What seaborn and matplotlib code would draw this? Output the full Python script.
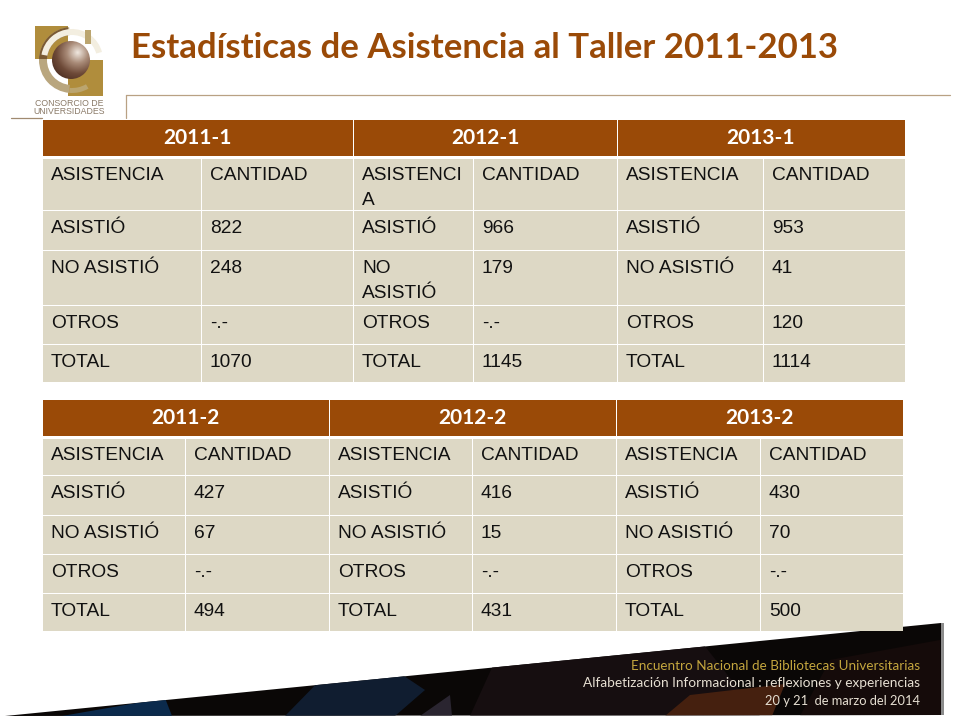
import numpy as np
import pandas as pd
import matplotlib
matplotlib.use("Agg")
import matplotlib.pyplot as plt
from matplotlib.colors import ListedColormap, LinearSegmentedColormap
from matplotlib.patches import Polygon, Circle, Rectangle, Wedge
import seaborn as sns

TITLE = "Estadísticas de Asistencia al Taller 2011-2013"
FOOTER = ["Encuentro Nacional de Bibliotecas Universitarias",
          "Alfabetización Informacional : reflexiones y experiencias",
          "20 y 21  de marzo del 2014"]

row_labels = ["ASISTIÓ", "NO ASISTIÓ", "OTROS", "TOTAL"]

periods_top = ["2011-1", "2012-1", "2013-1"]
values_2011_1 = ["822", "248", "-.-", "1070"]
values_2012_1 = ["966", "179", "-.-", "1145"]
values_2013_1 = ["953", "41", "120", "1114"]

periods_bottom = ["2011-2", "2012-2", "2013-2"]
values_2011_2 = ["427", "67", "-.-", "494"]
values_2012_2 = ["416", "15", "-.-", "431"]
values_2013_2 = ["430", "70", "-.-", "500"]

BROWN = "#9A4A07"
BODY = "#DDD8C5"

sns.set_theme(style="white")
plt.rcParams["font.family"] = ["Liberation Sans", "DejaVu Sans"]

fig = plt.figure(figsize=(9.6, 7.2), dpi=100)

# page decoration is drawn in pixel coordinates
bg = fig.add_axes([0, 0, 1, 1])
bg.set_xlim(0, 960)
bg.set_ylim(720, 0)
bg.axis("off")


def piecewise_scale(ax, axis, edges):
    """Stretch the heatmap's unit cells so they land on the given pixel edges."""
    idx = np.arange(len(edges))
    funcs = (lambda v: np.interp(v, idx, edges), lambda v: np.interp(v, edges, idx))
    if axis == "x":
        ax.set_xscale("function", functions=funcs)
        ax.set_xlim(0, len(edges) - 1)
        ax.set_xticks([])
        ax.minorticks_off()
    else:
        ax.set_yscale("function", functions=funcs)
        ax.set_ylim(len(edges) - 1, 0)
        ax.set_yticks([])
        ax.minorticks_off()


def pixel_axes(x0, x1, y0, y1):
    return fig.add_axes([x0 / 960, 1 - y1 / 720, (x1 - x0) / 960, (y1 - y0) / 720])


def draw_table(periods, series, header_x, header_y, col_x, row_y, wrap=None):
    wrap = wrap or {}

    # header band
    ax = pixel_axes(header_x[0], header_x[-1], header_y[0], header_y[1])
    sns.heatmap(pd.DataFrame([[0, 0, 0]], columns=periods), ax=ax, cmap=ListedColormap([BROWN]),
                cbar=False, linewidths=0.6, linecolor="white", xticklabels=False, yticklabels=False)
    piecewise_scale(ax, "x", header_x)
    for i, p in enumerate(periods):
        ax.text(i + 0.5, 0.5, p, ha="center", va="center", color="white", fontsize=15,
                fontweight="bold", family="Lato")

    # body cells
    cells = []
    cells.append(["ASISTENCIA", "CANTIDAD"] * 3)
    for r, lab in enumerate(row_labels):
        row = []
        for vals in series:
            row += [lab, vals[r]]
        cells.append(row)
    cells = pd.DataFrame(cells)

    ax = pixel_axes(col_x[0], col_x[-1], row_y[0], row_y[-1])
    sns.heatmap(np.zeros(cells.shape), ax=ax, cmap=ListedColormap([BODY]), cbar=False,
                linewidths=0.6, linecolor="white", xticklabels=False, yticklabels=False)
    piecewise_scale(ax, "x", col_x)
    piecewise_scale(ax, "y", row_y)
    for r in range(cells.shape[0]):
        for c in range(cells.shape[1]):
            txt = wrap.get((r, c), cells.iat[r, c])
            base = 22 if r == 0 else 23
            # wrapped cells get one annotation per line so the baselines stay put
            for j, line in enumerate(txt.split("\n")):
                ax.annotate(line, (c, r), xytext=(9, -(base + 25 * j)), textcoords="offset pixels",
                            ha="left", va="baseline", fontsize=13.8, color="#111111",
                            annotation_clip=False)


draw_table(periods_top, [values_2011_1, values_2012_1, values_2013_1],
           [42, 353, 617, 905], [119, 156],
           [42, 201, 353, 473, 617, 763, 905], [158, 210, 250, 305, 344, 382],
           wrap={(0, 2): "ASISTENCI\nA", (2, 2): "NO\nASISTIÓ"})
draw_table(periods_bottom, [values_2011_2, values_2012_2, values_2013_2],
           [42, 329, 616, 903], [399, 436],
           [42, 185, 329, 472, 616, 760, 903], [438, 475, 515, 554, 593, 631])

# title
bg.text(131, 48, TITLE, fontsize=25, fontweight="bold", color="#9A4A07", family="Lato",
        ha="left", va="center")

# frame lines by the logo
bg.plot([126, 950], [95, 95], color="#B9A184", lw=0.9)
bg.plot([126, 126], [95, 118], color="#B9A184", lw=0.9)
bg.plot([11, 42], [118, 118], color="#A08A70", lw=0.9)

# logo
left_sq = Rectangle((35, 26), 33, 33, color="#B08D3C", lw=0)
bg.add_patch(left_sq)
bg.add_patch(Rectangle((68, 60), 35, 36, color="#B08D3C", lw=0))
bg.add_patch(Wedge((72, 60), 33, 95, 265, width=8, color="#B9A67E", lw=0))
dark = Wedge((72, 60), 33, 95, 265, width=8, color="#7A5A34", lw=0)
bg.add_patch(dark)
dark.set_clip_path(left_sq)
bg.add_patch(Wedge((72, 60), 31, 190, 345, width=6, color="#F3EEE0", lw=0))
bg.add_patch(Wedge((72, 60), 33, 60, 95, width=5, color="#BBA56F", lw=0))
bg.add_patch(Rectangle((85, 30), 6, 14, color="#BBA56F", lw=0))
ball = LinearSegmentedColormap.from_list("ball", ["#F0E8E0", "#A98B78", "#6E4A38", "#4A2C20"])
yy, xx = np.mgrid[0:1:64j, 0:1:64j]
shade = np.hypot(xx - 0.68, yy - 0.3)
im = bg.imshow(shade, extent=(52, 90, 79, 41), cmap=ball, vmin=0, vmax=0.85, zorder=3)
im.set_clip_path(Circle((71, 60), 19, transform=bg.transData))
bg.set_xlim(0, 960)
bg.set_ylim(720, 0)
bg.set_aspect("auto")
bg.text(69, 103, "CONSORCIO DE", fontsize=6.3, color="#8A7A68", ha="center", va="center")
bg.text(69, 112, "UNIVERSIDADES", fontsize=6.3, color="#8A7A68", ha="center", va="center")

# footer band, clipped patches on a near-black wedge
wedge = Polygon([(5, 716), (941, 623), (941, 715)], closed=True, color="#0A0706", lw=0, zorder=1)
bg.add_patch(wedge)
patches = [
    ([(62, 716), (165, 698), (172, 716)], "#0B2A4C"),
    ([(285, 716), (330, 670), (395, 670), (425, 690), (395, 716)], "#101D30"),
    ([(420, 716), (450, 695), (452, 716)], "#2A2530"),
    ([(470, 716), (500, 650), (700, 640), (760, 716)], "#160E10"),
    ([(665, 716), (690, 695), (785, 684), (772, 716)], "#45200F"),
    ([(800, 716), (830, 660), (940, 640), (941, 716)], "#150B0A"),
]
for pts, col in patches:
    p = Polygon(pts, closed=True, color=col, lw=0, zorder=1.5)
    bg.add_patch(p)
    p.set_clip_path(wedge)
bg.add_patch(Rectangle((941, 623), 3, 92, color="#8C8C8C", lw=0, zorder=1))

for txt, y, col, size in zip(FOOTER, [666, 683, 701], ["#C4A63E", "#E6DFD2", "#E6DFD2"], [9.7, 9.85, 9.3]):
    bg.text(920, y, txt, fontsize=size, color=col, family="Lato", ha="right", va="center", zorder=4)

fig.savefig("out.png", dpi=100)
